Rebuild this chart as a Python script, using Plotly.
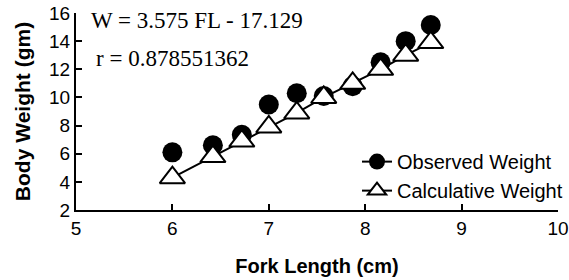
import plotly.graph_objects as go

fork_length = [6.0, 6.42, 6.72, 7.0, 7.29, 7.57, 7.87, 8.16, 8.42, 8.68]
observed_weight = [6.1, 6.6, 7.35, 9.5, 10.3, 10.1, 10.8, 12.5, 14.0, 15.15]
calculative_weight = [4.3, 5.8, 6.9, 7.9, 8.9, 10.0, 11.0, 12.0, 13.0, 13.9]
x_ticks = [5, 6, 7, 8, 9, 10]
y_ticks = [2, 4, 6, 8, 10, 12, 14, 16]
equation_text = "W = 3.575 FL - 17.129"
r_text = "r = 0.878551362"

fig = go.Figure()
fig.add_trace(go.Scatter(
    x=fork_length, y=observed_weight, mode="markers", showlegend=False,
    marker=dict(symbol="circle", size=20, color="black"),
))
fig.add_trace(go.Scatter(
    x=fork_length, y=calculative_weight, mode="lines+markers", showlegend=False,
    line=dict(color="black", width=2),
    marker=dict(symbol="triangle-up", size=22, color="white", line=dict(color="black", width=2)),
))
# legend entries
fig.add_trace(go.Scatter(
    x=[None], y=[None], mode="lines+markers", name="Observed Weight",
    line=dict(color="black", width=2),
    marker=dict(symbol="circle", size=18, color="black"),
))
fig.add_trace(go.Scatter(
    x=[None], y=[None], mode="lines+markers", name="Calculative Weight",
    line=dict(color="black", width=2),
    marker=dict(symbol="triangle-up", size=18, color="white", line=dict(color="black", width=2)),
))

fig.add_annotation(text=equation_text, xref="paper", yref="paper", x=0.027, y=0.96,
                   xanchor="left", yanchor="middle", showarrow=False,
                   font=dict(family="Liberation Serif", size=23, color="black"))
fig.add_annotation(text=r_text, xref="paper", yref="paper", x=0.037, y=0.77,
                   xanchor="left", yanchor="middle", showarrow=False,
                   font=dict(family="Liberation Serif", size=23, color="black"))

fig.update_layout(
    width=569, height=280,
    margin=dict(l=76, r=11, t=13, b=70, autoexpand=False),
    paper_bgcolor="white", plot_bgcolor="white",
    font=dict(family="Liberation Sans", color="black"),
    legend=dict(x=0.583, y=0.172, xanchor="left", yanchor="middle",
                bgcolor="rgba(0,0,0,0)", font=dict(size=20, family="Liberation Sans"),
                tracegroupgap=0, itemsizing="trace"),
    xaxis=dict(range=[5, 10], tickvals=x_ticks, showgrid=False, zeroline=False,
               showline=True, linecolor="black", linewidth=2, automargin=False,
               ticks="inside", ticklen=6, tickwidth=1.5, tickcolor="black",
               ticklabeloverflow="allow",
               tickfont=dict(size=19, family="Liberation Sans"),
               title=dict(text="<b>Fork Length (cm)</b>", font=dict(size=20, family="Liberation Sans"), standoff=21)),
    yaxis=dict(range=[2, 16], tickvals=y_ticks, showgrid=False, zeroline=False,
               showline=True, linecolor="black", linewidth=2, automargin=False,
               ticks="inside", ticklen=6, tickwidth=1.5, tickcolor="black",
               tickfont=dict(size=19, family="Liberation Sans"),
               title=dict(text="<b>Body Weight (gm)</b>", font=dict(size=21, family="Liberation Sans"), standoff=13)),
)

fig.write_html("out.html", config={"displayModeBar": False},
               post_script="document.body.style.margin='0';")
